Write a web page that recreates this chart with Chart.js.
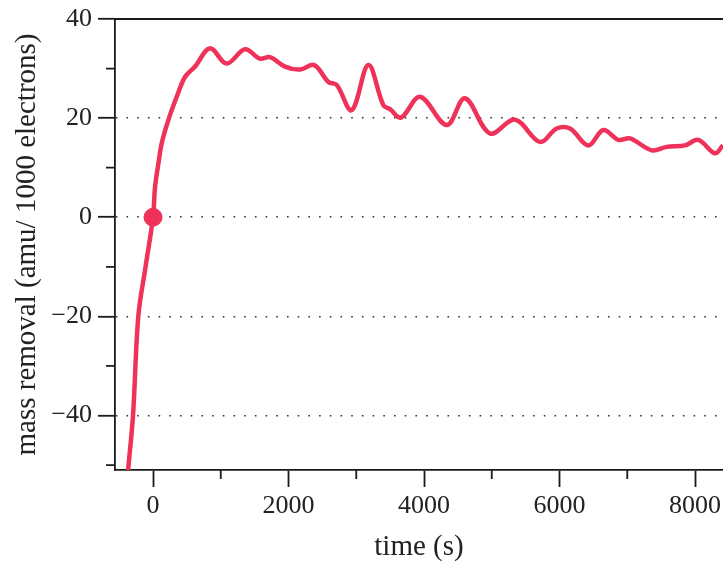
<!DOCTYPE html>
<html>
<head>
<meta charset="utf-8">
<script src="https://cdn.jsdelivr.net/npm/chart.js@4/dist/chart.umd.min.js"></script>
<style>
  html, body { margin: 0; padding: 0; background: #fff; }
</style>
</head>
<body>
<canvas id="chart" width="723" height="562"></canvas>
<script>
// time (s) and mass removal (amu / 1000 electrons)
const times = [-430, -364, -295, -217, -110, 0, 30, 79, 128, 226, 350, 472, 620, 841, 1087, 1358, 1579, 1727,
  1948, 2170, 2381, 2588, 2711, 2933, 3178, 3400, 3498, 3660, 3941, 4335, 4605, 4974, 5343, 5712,
  5958, 6155, 6425, 6647, 6868, 7041, 7361, 7582, 7852, 8049, 8295, 8413, 8500];
const massRemoval = [-60.5, -50.5, -40, -20, -10, 0, 6.1, 10.8, 14.9, 19.6, 24.3, 28.3, 30.4, 34.1, 31.0, 33.9, 32.0, 32.3,
  30.4, 29.8, 30.7, 27.3, 26.7, 21.6, 30.7, 22.6, 21.8, 20.1, 24.3, 18.6, 24.0, 16.9, 19.7, 15.2,
  17.9, 17.9, 14.5, 17.6, 15.6, 15.9, 13.5, 14.2, 14.5, 15.6, 12.9, 14.5, 15.5];

// the marked point at the origin
const markerTimes = [0];
const markerValues = [0];

const xTicks = [0, 2000, 4000, 6000, 8000];
const xMinorTicks = [1000, 3000, 5000, 7000];
const yTicks = [-40, -20, 0, 20, 40];
const yMinorTicks = [-50, -30, -10, 10, 30];

const lineColor = "#ee3259";
const axisColor = "#1a1a1a";
const fontFamily = "'Liberation Serif', 'DejaVu Serif', serif";

// minor ticks and the top frame line
const frameExtras = {
  id: "frameExtras",
  afterDraw(chart) {
    const { ctx, chartArea, scales } = chart;
    ctx.save();
    ctx.strokeStyle = axisColor;
    ctx.lineWidth = 1.8;
    ctx.beginPath();
    xMinorTicks.forEach((v) => {
      const px = scales.x.getPixelForValue(v);
      ctx.moveTo(px, chartArea.bottom);
      ctx.lineTo(px, chartArea.bottom + 9);
    });
    yMinorTicks.forEach((v) => {
      const py = scales.y.getPixelForValue(v);
      ctx.moveTo(chartArea.left, py);
      ctx.lineTo(chartArea.left - 9, py);
    });
    ctx.moveTo(chartArea.left - 1, chartArea.top);
    ctx.lineTo(chartArea.right, chartArea.top);
    ctx.stroke();
    ctx.restore();
  },
};

new Chart(document.getElementById("chart"), {
  type: "line",
  data: {
    datasets: [
      {
        data: times.map((t, i) => ({ x: t, y: massRemoval[i] })),
        borderColor: lineColor,
        borderWidth: 4.5,
        pointRadius: 0,
        tension: 0.35,
        fill: false,
      },
      {
        type: "scatter",
        data: markerTimes.map((t, i) => ({ x: t, y: markerValues[i] })),
        backgroundColor: lineColor,
        borderColor: lineColor,
        pointRadius: 9,
        borderWidth: 1,
      },
    ],
  },
  options: {
    responsive: false,
    animation: false,
    layout: { autoPadding: false, padding: { top: 19, right: 0, left: 0, bottom: 0 } },
    plugins: { legend: { display: false }, tooltip: { enabled: false } },
    scales: {
      x: {
        type: "linear",
        min: -561,
        max: 8413,
        afterBuildTicks: (s) => { s.ticks = xTicks.map((v) => ({ value: v })); },
        afterFit: (s) => {
          s.height = 92;
          s.paddingLeft = 0;
          s.paddingRight = 0;
        },
        grid: { drawOnChartArea: false, drawTicks: true, tickLength: 17, tickColor: axisColor, tickWidth: 1.8 },
        border: { color: axisColor, width: 1.8 },
        ticks: {
          color: "#222",
          font: { family: fontFamily, size: 26 },
          padding: 4,
          maxRotation: 0,
          callback: (v) => String(v),
        },
        title: {
          display: true,
          text: "time (s)",
          color: "#222",
          font: { family: fontFamily, size: 29, lineHeight: 1 },
          padding: { top: 0, bottom: 0 },
        },
      },
      y: {
        type: "linear",
        min: -51,
        max: 40,
        afterBuildTicks: (s) => { s.ticks = yTicks.map((v) => ({ value: v })); },
        afterFit: (s) => {
          s.width = 115;
          s.paddingTop = 0;
          s.paddingBottom = 0;
        },
        grid: {
          drawTicks: true,
          tickLength: 17,
          tickColor: axisColor,
          tickWidth: 1.8,
          lineWidth: 1.6,
          color: (c) => (c.tick && c.tick.value === 40 ? "rgba(0,0,0,0)" : "#333"),
        },
        border: { color: axisColor, width: 1.8, dash: [1.6, 9.1] },
        ticks: {
          color: "#222",
          font: { family: fontFamily, size: 26 },
          padding: 6,
          callback: (v) => (v < 0 ? "\u2212" + Math.abs(v) : String(v)),
        },
        title: {
          display: true,
          text: "mass removal (amu/ 1000 electrons)",
          color: "#222",
          font: { family: fontFamily, size: 29, lineHeight: 1 },
          padding: { top: 12.5, bottom: 0 },
        },
      },
    },
  },
  plugins: [frameExtras],
});
</script>
</body>
</html>
